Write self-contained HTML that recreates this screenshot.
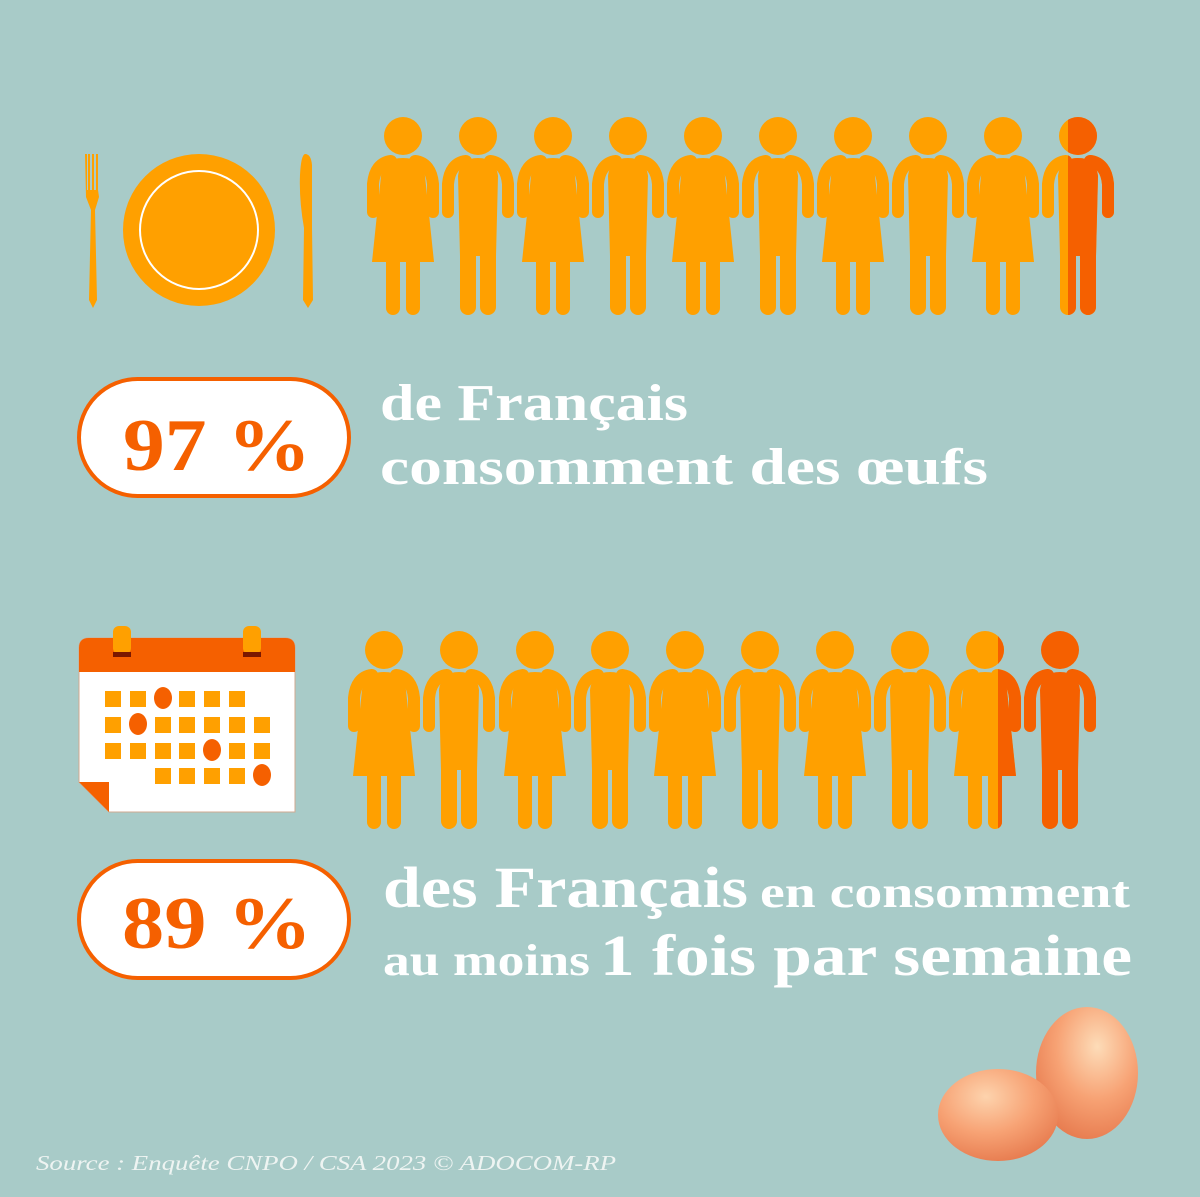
<!DOCTYPE html>
<html><head><meta charset="utf-8"><style>
html,body{margin:0;padding:0;background:#a8cbc8;}
svg{display:block;}
</style></head><body>
<svg width="1200" height="1197" viewBox="0 0 1200 1197" xmlns="http://www.w3.org/2000/svg">
<defs>
<g id="arms">
<path d="M-12,25 Q-28,27 -30,48 L-30,76" stroke-width="12" stroke-linecap="round" stroke-linejoin="round" fill="none"/>
<path d="M12,25 Q28,27 30,48 L30,76" stroke-width="12" stroke-linecap="round" stroke-linejoin="round" fill="none"/>
</g>
<g id="woman">
<circle cx="0" cy="0" r="19"/>
<path d="M-22,40 Q-20,22 0,22 Q20,22 22,40 L31,126 L-31,126 Z"/>
<rect x="-17" y="110" width="14" height="69" rx="7"/>
<rect x="3" y="110" width="14" height="69" rx="7"/>
</g>
<g id="man">
<circle cx="0" cy="0" r="19"/>
<path d="M-20,40 Q-18,22 0,22 Q18,22 20,40 L18,120 L-18,120 Z"/>
<rect x="-18" y="100" width="16" height="79" rx="8"/>
<rect x="2" y="100" width="16" height="79" rx="8"/>
</g>
<radialGradient id="eg" cx="0.6" cy="0.3" r="0.8">
<stop offset="0" stop-color="#fddcb8"/><stop offset="0.5" stop-color="#f7a274"/><stop offset="1" stop-color="#e47448"/>
</radialGradient>
<radialGradient id="eg2" cx="0.4" cy="0.3" r="0.8">
<stop offset="0" stop-color="#fdd3ad"/><stop offset="0.5" stop-color="#f7a274"/><stop offset="1" stop-color="#e47448"/>
</radialGradient>
<clipPath id="rh1"><rect x="1068" y="100" width="70" height="240"/></clipPath>
<clipPath id="rh2"><rect x="998" y="620" width="60" height="240"/></clipPath>
</defs>

<circle cx="199" cy="230" r="76" fill="#ffa000"/>
<circle cx="199" cy="230" r="59" fill="none" stroke="#fff" stroke-width="2"/>
<g fill="#ffa000">
<path d="M85,154 L87,154 L87,190 L88,190 L88,154 L90,154 L90,190 L92,190 L92,154 L94,154 L94,190 L96,190 L96,154 L98,154 L98,190 L99,197 L95,210 L97,300 L93,308 L89,300 L91,210 L86,197 Z"/>
<path d="M305,154 Q311,154 312,165 L312,228 L313,300 L308,308 L303,300 L304,228 Q299,200 300,175 Q301,155 305,154 Z"/>
</g>

<g fill="#ffa000" stroke="#ffa000">
<g transform="translate(403,136)"><use href="#arms"/><use href="#woman" stroke="none"/></g>
<g transform="translate(478,136)"><use href="#arms"/><use href="#man" stroke="none"/></g>
<g transform="translate(553,136)"><use href="#arms"/><use href="#woman" stroke="none"/></g>
<g transform="translate(628,136)"><use href="#arms"/><use href="#man" stroke="none"/></g>
<g transform="translate(703,136)"><use href="#arms"/><use href="#woman" stroke="none"/></g>
<g transform="translate(778,136)"><use href="#arms"/><use href="#man" stroke="none"/></g>
<g transform="translate(853,136)"><use href="#arms"/><use href="#woman" stroke="none"/></g>
<g transform="translate(928,136)"><use href="#arms"/><use href="#man" stroke="none"/></g>
<g transform="translate(1003,136)"><use href="#arms"/><use href="#woman" stroke="none"/></g>
<g transform="translate(1078,136)"><use href="#arms"/><use href="#man" stroke="none"/></g>
</g>
<g fill="#f56000" stroke="#f56000" clip-path="url(#rh1)">
<g transform="translate(1078,136)"><use href="#arms"/><use href="#man" stroke="none"/></g>
</g>

<g fill="#ffa000" stroke="#ffa000">
<g transform="translate(384,650)"><use href="#arms"/><use href="#woman" stroke="none"/></g>
<g transform="translate(459,650)"><use href="#arms"/><use href="#man" stroke="none"/></g>
<g transform="translate(535,650)"><use href="#arms"/><use href="#woman" stroke="none"/></g>
<g transform="translate(610,650)"><use href="#arms"/><use href="#man" stroke="none"/></g>
<g transform="translate(685,650)"><use href="#arms"/><use href="#woman" stroke="none"/></g>
<g transform="translate(760,650)"><use href="#arms"/><use href="#man" stroke="none"/></g>
<g transform="translate(835,650)"><use href="#arms"/><use href="#woman" stroke="none"/></g>
<g transform="translate(910,650)"><use href="#arms"/><use href="#man" stroke="none"/></g>
<g transform="translate(985,650)"><use href="#arms"/><use href="#woman" stroke="none"/></g>
</g>
<g fill="#f56000" stroke="#f56000">
<g clip-path="url(#rh2)"><g transform="translate(985,650)"><use href="#arms"/><use href="#woman" stroke="none"/></g></g>
<g transform="translate(1060,650)"><use href="#arms"/><use href="#man" stroke="none"/></g>
</g>

<path d="M79,648 Q79,638 89,638 L285,638 Q295,638 295,648 L295,812 L109,812 L79,782 Z" fill="#fff" stroke="#d0a890" stroke-width="1"/>
<path d="M79,648 Q79,638 89,638 L285,638 Q295,638 295,648 L295,672 L79,672 Z" fill="#f56000"/>
<path d="M79,782 L109,782 L109,812 Z" fill="#f56000"/>
<rect x="113" y="626" width="18" height="28" rx="6" fill="#ffa000"/>
<rect x="243" y="626" width="18" height="28" rx="6" fill="#ffa000"/>
<rect x="113" y="652" width="18" height="5" fill="#7a1800"/>
<rect x="243" y="652" width="18" height="5" fill="#7a1800"/>
<g fill="#ffa000">
<rect x="105" y="691" width="16" height="16"/><rect x="130" y="691" width="16" height="16"/><rect x="179" y="691" width="16" height="16"/><rect x="204" y="691" width="16" height="16"/><rect x="229" y="691" width="16" height="16"/>
<rect x="105" y="717" width="16" height="16"/><rect x="155" y="717" width="16" height="16"/><rect x="179" y="717" width="16" height="16"/><rect x="204" y="717" width="16" height="16"/><rect x="229" y="717" width="16" height="16"/><rect x="254" y="717" width="16" height="16"/>
<rect x="105" y="743" width="16" height="16"/><rect x="130" y="743" width="16" height="16"/><rect x="155" y="743" width="16" height="16"/><rect x="179" y="743" width="16" height="16"/><rect x="229" y="743" width="16" height="16"/><rect x="254" y="743" width="16" height="16"/>
<rect x="155" y="768" width="16" height="16"/><rect x="179" y="768" width="16" height="16"/><rect x="204" y="768" width="16" height="16"/><rect x="229" y="768" width="16" height="16"/>
</g>
<g fill="#f56000">
<ellipse cx="163" cy="698" rx="9" ry="11"/>
<ellipse cx="138" cy="724" rx="9" ry="11"/>
<ellipse cx="212" cy="750" rx="9" ry="11"/>
<ellipse cx="262" cy="775" rx="9" ry="11"/>
</g>

<rect x="79" y="379" width="270" height="117" rx="58.5" fill="#fff" stroke="#f56000" stroke-width="4"/>
<rect x="79" y="861" width="270" height="117" rx="58.5" fill="#fff" stroke="#f56000" stroke-width="4"/>
<g font-family="Liberation Serif, serif" font-weight="bold" fill="#f56000" font-size="74">
<text x="123" y="470" textLength="188" lengthAdjust="spacingAndGlyphs">97 %</text>
<text x="122" y="948" textLength="190" lengthAdjust="spacingAndGlyphs">89 %</text>
</g>

<g font-family="Liberation Serif, serif" font-weight="bold" fill="#fff">
<text x="380" y="420" font-size="52" textLength="308" lengthAdjust="spacingAndGlyphs">de Français</text>
<text x="380" y="484" font-size="52" textLength="608" lengthAdjust="spacingAndGlyphs">consomment des œufs</text>
<text x="383" y="907" font-size="58" textLength="365" lengthAdjust="spacingAndGlyphs">des Français</text>
<text x="760" y="907" font-size="44" textLength="370" lengthAdjust="spacingAndGlyphs">en consomment</text>
<text x="383" y="975" font-size="44" textLength="207" lengthAdjust="spacingAndGlyphs">au moins</text>
<text x="600" y="975" font-size="58" textLength="532" lengthAdjust="spacingAndGlyphs">1 fois par semaine</text>
</g>

<ellipse cx="1087" cy="1073" rx="51" ry="66" fill="url(#eg)"/>
<ellipse cx="998" cy="1115" rx="60" ry="46" fill="url(#eg2)"/>

<text x="36" y="1170" font-family="Liberation Serif, serif" font-style="italic" font-size="21" fill="#eef4f2" textLength="580" lengthAdjust="spacingAndGlyphs">Source : Enquête CNPO / CSA 2023 © ADOCOM-RP</text>
</svg>
</body></html>
